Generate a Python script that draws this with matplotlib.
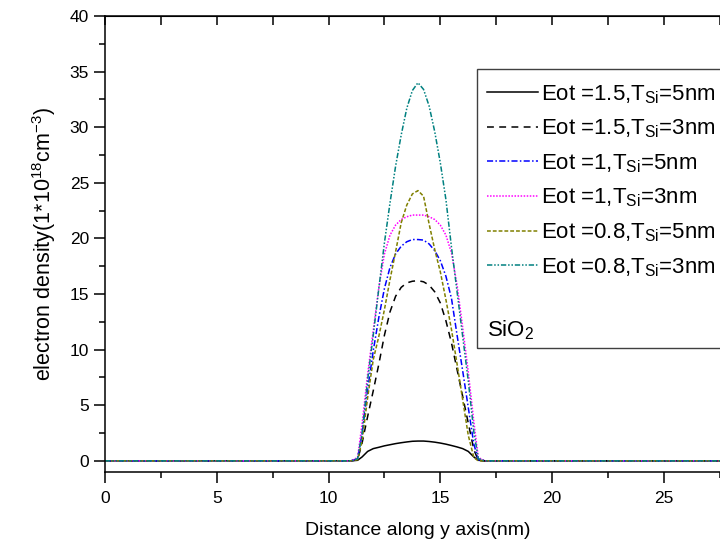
import matplotlib
matplotlib.use('Agg')
import matplotlib.pyplot as plt
from matplotlib.patches import Rectangle
from matplotlib.ticker import MultipleLocator

plt.rcParams['font.family'] = ['Liberation Sans', 'DejaVu Sans']
plt.rcParams['mathtext.fontset'] = 'custom'
plt.rcParams['mathtext.rm'] = 'Liberation Sans'
plt.rcParams['mathtext.it'] = 'Liberation Sans:italic'
plt.rcParams['mathtext.bf'] = 'Liberation Sans:bold'

# position along y (nm)
y_pos = [0, 11.0, 11.3, 11.5, 11.75, 12.0, 12.25, 12.5, 12.75, 13.0, 13.25, 13.5,
         13.75, 14.0, 14.25, 14.5, 14.75, 15.0, 15.25, 15.5, 15.75, 16.0, 16.25,
         16.5, 16.7, 17.0, 28]

# electron density, 1e18 cm^-3
eot15_t5 = [0, 0, 0.05, 0.35, 0.85, 1.1, 1.22, 1.35, 1.45, 1.55, 1.63, 1.7,
            1.76, 1.78, 1.78, 1.74, 1.68, 1.6, 1.5, 1.38, 1.25, 1.1, 0.85,
            0.35, 0.05, 0, 0]
eot15_t3 = [0, 0, 0.1, 1.6, 4.0, 6.3, 8.7, 11.3, 13.4, 14.8, 15.6, 16.0,
            16.15, 16.2, 16.1, 15.8, 15.2, 14.2, 12.6, 10.6, 8.2, 5.8, 3.4,
            1.0, 0.05, 0, 0]
eot1_t5 = [0, 0, 0.2, 2.4, 6.4, 9.9, 12.9, 15.5, 17.4, 18.6, 19.3, 19.7,
           19.9, 19.9, 19.85, 19.5, 18.9, 18.0, 16.6, 14.6, 11.3, 8.1, 4.8,
           1.5, 0.1, 0, 0]
eot1_t3 = [0, 0, 0.3, 3.3, 7.8, 11.7, 15.6, 18.6, 20.3, 21.2, 21.7, 21.95,
           22.1, 22.1, 22.1, 21.95, 21.7, 21.2, 20.3, 18.7, 15.8, 12.0, 8.0,
           3.5, 0.3, 0, 0]
eot08_t5 = [0, 0, 0.1, 1.8, 5.7, 9.1, 11.2, 13.6, 16.3, 18.8, 21.4, 23.0,
            24.0, 24.3, 23.8, 21.3, 19.0, 17.0, 14.5, 11.8, 8.7, 5.5, 2.3,
            0.3, 0, 0, 0]
eot08_t3 = [0, 0, 0.2, 2.5, 7.3, 11.3, 15.5, 19.6, 23.2, 26.5, 29.3, 31.7,
            33.3, 34.0, 33.4, 31.9, 29.6, 26.8, 23.5, 19.2, 15.2, 11.2, 7.2,
            2.6, 0.2, 0, 0]

labels = ['Eot =1.5,T$_{\\mathrm{Si}}$=5nm', 'Eot =1.5,T$_{\\mathrm{Si}}$=3nm',
          'Eot =1,T$_{\\mathrm{Si}}$=5nm', 'Eot =1,T$_{\\mathrm{Si}}$=3nm',
          'Eot =0.8,T$_{\\mathrm{Si}}$=5nm', 'Eot =0.8,T$_{\\mathrm{Si}}$=3nm']

fig = plt.figure(figsize=(7.2, 5.44), dpi=100)
# right edge of the frame runs past the canvas
ax = fig.add_axes([0.1458, 0.1324, 0.8694, 0.8382])

lw = 1.1
ax.plot(y_pos, eot15_t5, color='black', lw=lw, label=labels[0])
ax.plot(y_pos, eot15_t3, color='black', lw=lw, dashes=(4.5, 3.5), label=labels[1])
ax.plot(y_pos, eot1_t5, color='#0000ff', lw=lw, dashes=(4, 1.5, 1, 1.5), label=labels[2])
ax.plot(y_pos, eot1_t3, color='#ff00ff', lw=lw, dashes=(1, 1), label=labels[3])
ax.plot(y_pos, eot08_t5, color='#808000', lw=lw, dashes=(2.5, 1.3), label=labels[4])
ax.plot(y_pos, eot08_t3, color='#008080', lw=lw, dashes=(3.5, 1.2, 1, 1.2, 1, 1.2), label=labels[5])

ax.set_xlim(0, 28)
ax.set_ylim(-1, 40)
ax.xaxis.set_major_locator(MultipleLocator(5))
ax.xaxis.set_minor_locator(MultipleLocator(2.5))
ax.yaxis.set_major_locator(MultipleLocator(5))
ax.yaxis.set_minor_locator(MultipleLocator(2.5))
ax.tick_params(which='major', direction='out', length=8, width=1.1, labelsize=12.5,
               top=False, right=False)
ax.tick_params(axis='x', which='major', pad=6)
ax.tick_params(which='minor', direction='out', length=4, width=1.1,
               top=False, right=False)
for s in ax.spines.values():
    s.set_linewidth(1.1)

# mirrored ticks on the top and right edges, pointing inward
axt = ax.secondary_xaxis('top')
axt.xaxis.set_major_locator(MultipleLocator(5))
axt.xaxis.set_minor_locator(MultipleLocator(2.5))
axt.tick_params(which='both', direction='in', length=6.5, width=1.1, labeltop=False)
axr = ax.secondary_yaxis('right')
axr.yaxis.set_major_locator(MultipleLocator(5))
axr.yaxis.set_minor_locator(MultipleLocator(2.5))
axr.tick_params(which='both', direction='in', length=8, width=1.1, labelright=False)

ax.set_xlabel('Distance along y axis(nm)', fontsize=14, labelpad=11)
ax.set_ylabel('electron density(1*10$^{18}$cm$^{-3}$)', fontsize=15.5, labelpad=8)

# legend box with the SiO2 note inside
fig.patches.append(Rectangle((476.7 / 720, 1 - 348 / 544), 0.5, (348 - 69) / 544,
                             transform=fig.transFigure, fill=False,
                             edgecolor='#404040', lw=1.0, zorder=5))
leg = ax.legend(loc='upper left', bbox_to_anchor=(487 / 720, 1 - 83 / 544),
                bbox_transform=fig.transFigure, frameon=False, fontsize=16,
                handlelength=2.3, handletextpad=0.15, labelspacing=0.54,
                borderpad=0, borderaxespad=0)
fig.text(487 / 720, 1 - 330 / 544, 'SiO$_2$', fontsize=16, va='center')

fig.savefig('out.png', dpi=100)
